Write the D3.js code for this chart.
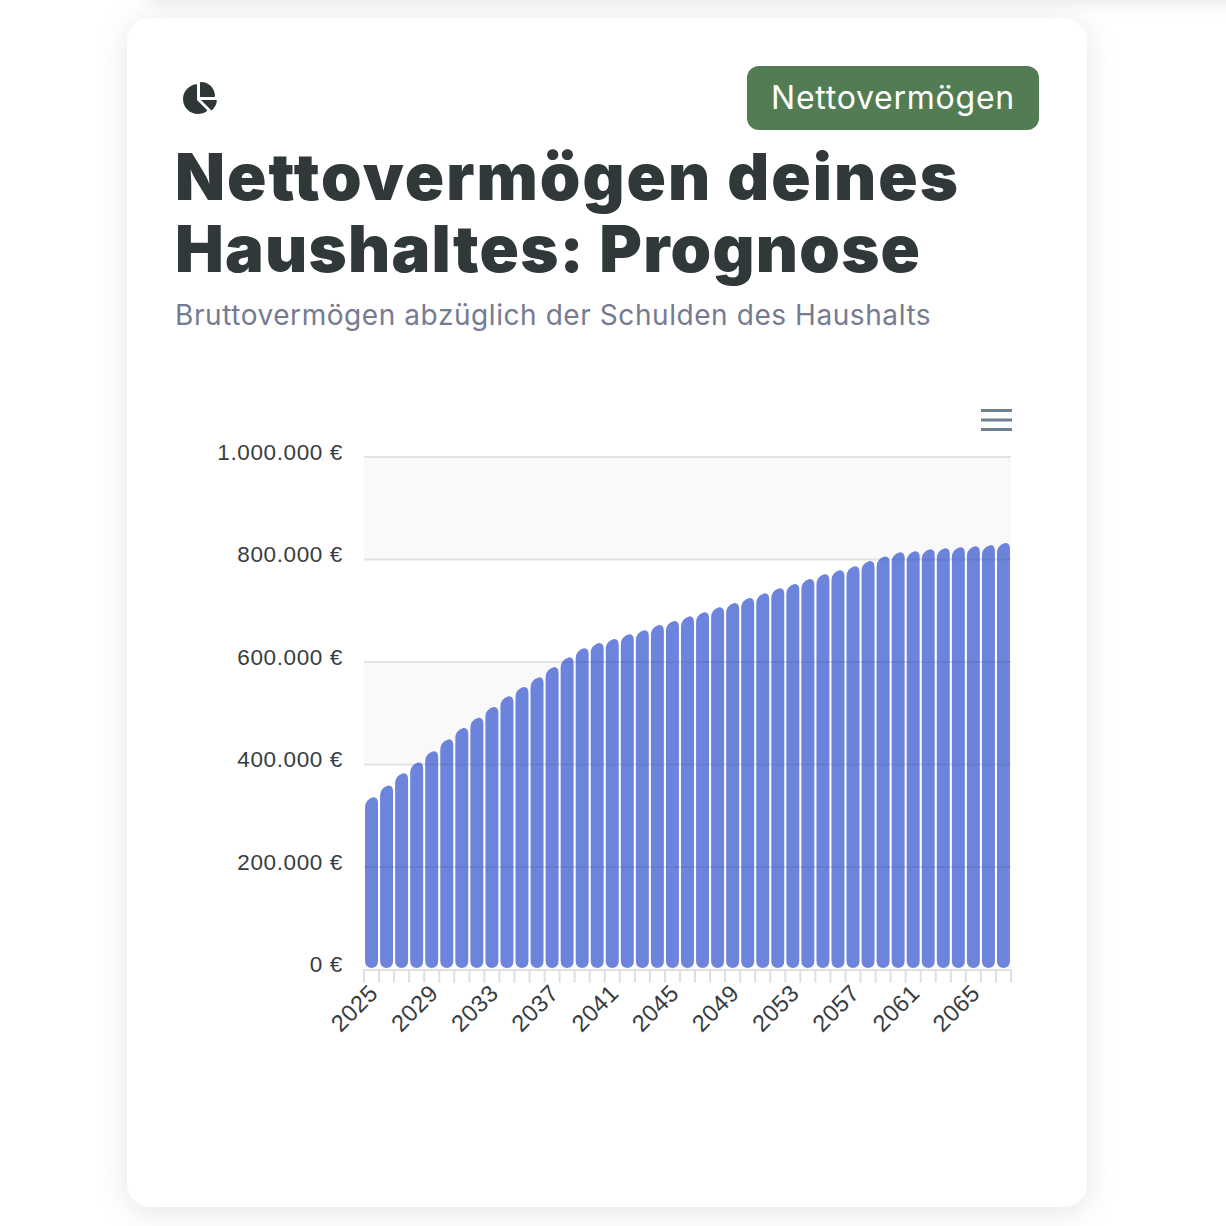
<!DOCTYPE html>
<html><head><meta charset="utf-8">
<script src="https://cdn.jsdelivr.net/npm/d3@7/dist/d3.min.js"></script>
<style>
html,body{margin:0;padding:0;background:#fff;overflow:hidden}
svg{display:block}
</style></head><body><svg id="c" width="1226" height="1226"></svg>
<script>
const years=[2025,2026,2027,2028,2029,2030,2031,2032,2033,2034,2035,2036,2037,2038,2039,2040,2041,2042,2043,2044,2045,2046,2047,2048,2049,2050,2051,2052,2053,2054,2055,2056,2057,2058,2059,2060,2061,2062,2063,2064,2065,2066,2067];
const netWorth=[336000,359000,383000,404000,426000,449000,471000,491000,512000,533000,551000,570000,590000,609000,627000,637000,645000,654000,662000,672000,680000,689000,697000,707000,715000,725000,734000,744000,752000,762000,771000,779000,787000,797000,806000,814000,816000,820000,822000,824000,826000,828000,832000];
const yTicks=[0,200000,400000,600000,800000,1000000];
const labelYears=[2025,2029,2033,2037,2041,2045,2049,2053,2057,2061,2065];
const titleLines=["Nettovermögen deines","Haushaltes: Prognose"];
const subtitle="Bruttovermögen abzüglich der Schulden des Haushalts";
const badge="Nettovermögen";

const svg=d3.select("#c");
const defs=svg.append("defs");
const f=defs.append("filter").attr("id","sh").attr("x","-20%").attr("y","-20%").attr("width","140%").attr("height","140%");
f.append("feDropShadow").attr("dx",0).attr("dy",5).attr("stdDeviation",15).attr("flood-color","#000").attr("flood-opacity",0.1);
const bl=defs.append("filter").attr("id","bl").attr("x","-5%").attr("y","-200%").attr("width","110%").attr("height","500%");
bl.append("feGaussianBlur").attr("stdDeviation",8);

svg.append("rect").attr("x",150).attr("y",-14).attr("width",1150).attr("height",16).attr("fill","#e4e4e4").attr("filter","url(#bl)");
svg.append("rect").attr("x",127).attr("y",18).attr("width",960).attr("height",1189).attr("rx",24).attr("fill","#fff").attr("filter","url(#sh)");

// header
svg.append("path").attr("transform","translate(181,82) scale(0.0625)").attr("fill","#2f3638")
 .attr("d","M304 240V16.6c0-9 7-16.6 16-16.6C443.7 0 544 100.3 544 224c0 9-7.6 16-16.6 16H304zM32 272C32 150.7 122.1 50.3 239 34.3c9.2-1.3 17 6.1 17 15.4V288L412.5 444.5c6.7 6.7 6.2 17.7-1.5 23.1C371.8 495.6 323.8 512 272 512C139.5 512 32 404.6 32 272zm526.4 16c9.3 0 16.6 7.8 15.4 17c-7.7 55.9-34.6 105.6-73.9 142.3c-6 5.6-15.4 5.2-21.2-.7L320 288H558.4z");
svg.append("rect").attr("x",747).attr("y",66).attr("width",292).attr("height",64).attr("rx",12).attr("fill","#527d54");
svg.append("text").attr("x",893).attr("y",109).attr("text-anchor","middle").attr("fill","#fff")
 .attr("font-family","Inter").attr("font-size",32).attr("letter-spacing",0.75).text(badge);
const titleSpacing=[2.05,1.25];
svg.selectAll("text.t").data(titleLines).join("text").attr("class","t").attr("x",175).attr("y",(d,i)=>200+i*72)
 .attr("font-family","Inter").attr("font-weight",900).attr("font-size",65).attr("fill","#31383a")
 .attr("letter-spacing",(d,i)=>titleSpacing[i]).style("font-variant-ligatures","none").text(d=>d);
svg.append("text").attr("x",175).attr("y",325).attr("font-family","Inter").attr("font-size",28).attr("letter-spacing",0.57).attr("fill","#757b91").text(subtitle);

// chart
const L=364,R=1011,T=457,B=969.5;
const x=d3.scaleBand().domain(years).range([L,R]).paddingInner(0.14).paddingOuter(0.07);
const y=d3.scaleLinear().domain([0,1000000]).range([B,T]);
const g=svg.append("g");
g.selectAll("rect.band").data(d3.pairs(yTicks)).join("rect").attr("class","band")
 .attr("x",L).attr("width",R-L).attr("y",d=>y(d[1])).attr("height",d=>y(d[0])-y(d[1]))
 .attr("fill",d=>(d[1]===1000000||d[1]===600000)?"#f9f9f9":"#ffffff");

const fmt=d3.formatLocale({decimal:",",thousands:".",grouping:[3],currency:["","\u00a0€"]}).format(",.0f");
const yAxis=d3.axisLeft(y).tickValues(yTicks).tickSize(0).tickPadding(21).tickFormat(d=>fmt(d)+" €");
const ya=g.append("g").attr("transform",`translate(${L},0)`).call(yAxis);
ya.select(".domain").remove();
ya.selectAll("text").attr("dy","0.09em").attr("font-family","Liberation Sans, Arial").attr("font-size",22.5).attr("letter-spacing",0.62).attr("fill","#373d3f");
g.selectAll("line.grid").data(yTicks.slice(1)).join("line").attr("class","grid")
 .attr("x1",L).attr("x2",R).attr("y1",d=>y(d)).attr("y2",d=>y(d)).attr("stroke","#e2e2e2").attr("stroke-width",2);

function barPath(v,yr){
  const x0=x(yr),w=x.bandwidth(),t=y(v),b=B-1.5,r=7;
  return `M${x0},${t+10}Q${x0},${t+2.5} ${x0+w*0.62},${t}Q${x0+w},${t-0.5} ${x0+w},${t+6}L${x0+w},${b-r}Q${x0+w},${b} ${x0+w-r},${b}L${x0+r},${b}Q${x0},${b} ${x0},${b-r}Z`;
}
g.append("clipPath").attr("id","barclip").selectAll("path").data(years).join("path").attr("d",(yr,i)=>barPath(netWorth[i],yr));
g.selectAll("path.bar").data(years).join("path").attr("class","bar")
 .attr("d",(yr,i)=>barPath(netWorth[i],yr)).attr("fill","#5470d6").attr("fill-opacity",0.86);
// gridlines showing darker through the translucent bars
g.append("g").attr("clip-path","url(#barclip)").selectAll("line").data(yTicks.slice(1)).join("line")
 .attr("x1",L).attr("x2",R).attr("y1",d=>y(d)).attr("y2",d=>y(d)).attr("stroke","#3a4a90").attr("stroke-opacity",0.1).attr("stroke-width",2);

// x axis
g.append("line").attr("x1",L).attr("x2",R+1).attr("y1",B+0.5).attr("y2",B+0.5).attr("stroke","#e0e0e0").attr("stroke-width",2);
const edge=yr=>x(yr)-x.step()*x.paddingInner()/2;
g.selectAll("line.tk").data(years.concat([2068])).join("line").attr("class","tk")
 .attr("x1",yr=>yr===2068?R:edge(yr)).attr("x2",yr=>yr===2068?R:edge(yr)).attr("y1",B).attr("y2",B+13).attr("stroke","#e0e0e0").attr("stroke-width",2);
const xAxis=d3.axisBottom(x).tickValues(labelYears).tickSize(0).tickPadding(0).tickFormat(d3.format("d"));
const xa=g.append("g").attr("transform",`translate(0,${B})`).call(xAxis);
xa.select(".domain").remove();
xa.selectAll(".tick text").attr("font-family","Liberation Sans, Arial").attr("font-size",23.6).attr("letter-spacing",0.6).attr("fill","#373d3f")
 .attr("text-anchor","end").attr("dy",0).attr("y",0)
 .attr("transform","translate(8,25) rotate(-45)");

// menu
g.selectAll("line.m").data([0,1,2]).join("line").attr("class","m").attr("x1",981).attr("x2",1012)
 .attr("y1",d=>410.5+d*9.5).attr("y2",d=>410.5+d*9.5).attr("stroke","#6e8192").attr("stroke-width",3);
</script></body></html>
